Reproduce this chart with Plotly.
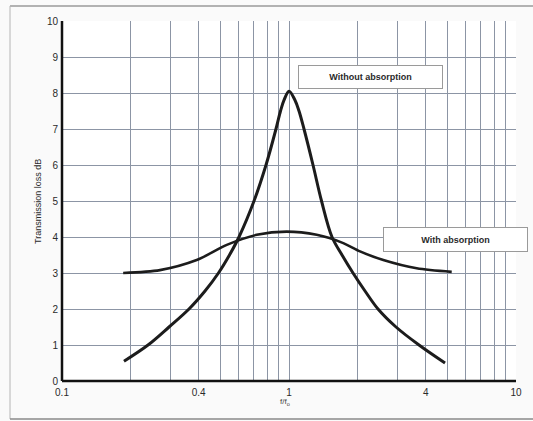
import plotly.graph_objects as go

# Data
f_without = [0.1875, 0.2393, 0.2961, 0.3626, 0.4266, 0.4890, 0.5468, 0.6021, 0.7012,
             0.7920, 0.8763, 0.9174, 0.9506, 1.0, 1.0627, 1.1069, 1.1643, 1.2758,
             1.3909, 1.5469, 1.7124, 1.9142, 2.1620, 2.4668, 2.9606, 3.7384, 4.8675]
tl_without = [0.55, 1.0, 1.5, 2.0, 2.5, 3.0, 3.5, 4.0, 5.0,
              6.0, 7.0, 7.5, 7.8, 8.05, 7.8, 7.5, 7.0, 6.0,
              5.0, 4.0, 3.5, 3.0, 2.5, 2.0, 1.5, 1.0, 0.5]

f_with = [0.186, 0.270, 0.392, 0.532, 0.721, 0.977, 1.324, 1.734, 2.055, 2.603, 3.652, 5.21]
tl_with = [3.0, 3.08, 3.36, 3.78, 4.06, 4.15, 4.06, 3.83, 3.6, 3.36, 3.13, 3.03]

major_x = [0.1, 0.4, 1, 4, 10]
major_x_text = ["0.1", "0.4", "1", "4", "10"]
minor_x = [0.2, 0.3, 0.5, 0.6, 0.7, 0.8, 0.9, 2, 3, 5, 6, 7, 8, 9]
y_ticks = list(range(0, 11))

FONT = "Liberation Sans"
INK = "#1c1c1c"
GRID = "#8c95a5"
TXT = "#2a2a2a"

fig = go.Figure()
fig.add_trace(go.Scatter(x=f_without, y=tl_without, mode="lines",
                         line=dict(color=INK, width=3, shape="spline", smoothing=1.0),
                         showlegend=False, hoverinfo="skip"))
fig.add_trace(go.Scatter(x=f_with, y=tl_with, mode="lines",
                         line=dict(color=INK, width=2.6, shape="spline", smoothing=0.8),
                         showlegend=False, hoverinfo="skip"))

fig.update_layout(
    width=533, height=421,
    margin=dict(l=62, r=17, t=21, b=40),
    paper_bgcolor="#fafafa", plot_bgcolor="#ffffff",
    font=dict(family=FONT, size=10, color=TXT),
    xaxis=dict(type="log", range=[-1, 1],
               tickvals=major_x, ticktext=major_x_text,
               showgrid=True, gridcolor=GRID, gridwidth=1,
               minor=dict(tickvals=minor_x, showgrid=True, gridcolor=GRID, gridwidth=1, ticks=""),
               zeroline=False, ticks="", showline=False,
               ticklabelstandoff=4,
               tickfont=dict(family=FONT, size=10, color=TXT)),
    yaxis=dict(range=[0, 10], tickvals=y_ticks,
               showgrid=True, gridcolor=GRID, gridwidth=1,
               zeroline=False, ticks="", showline=False,
               ticklabelstandoff=3,
               tickfont=dict(family=FONT, size=10, color=TXT)),
    shapes=[
        # outer scan frame
        dict(type="line", xref="paper", yref="paper", x0=-0.1145, x1=1.04, y0=1.0417, y1=1.0417,
             line=dict(color="#9a9a9a", width=1.5)),
        dict(type="line", xref="paper", yref="paper", x0=-0.1145, x1=-0.1145, y0=1.0417, y1=-0.1056,
             line=dict(color="#b5b5b5", width=1)),
        dict(type="line", xref="paper", yref="paper", x0=-0.1145, x1=1.04, y0=-0.1056, y1=-0.1056,
             line=dict(color="#8a8a8a", width=1.5)),
        # heavy axes
        dict(type="line", xref="paper", yref="paper", x0=0, x1=0, y0=0, y1=1,
             line=dict(color="#111111", width=2.5)),
        dict(type="line", xref="paper", yref="paper", x0=0, x1=1, y0=0, y1=0,
             line=dict(color="#111111", width=2.5)),
    ],
    annotations=[
        dict(text="<b>Without absorption</b>", x=0.359, y=8.44, xref="x", yref="y",
             showarrow=False, font=dict(family=FONT, size=9, color=TXT),
             bgcolor="#ffffff", bordercolor="#9a9a9a", borderwidth=1, borderpad=1,
             width=141, height=20),
        dict(text="<b>With absorption</b>", x=0.733, y=3.93, xref="x", yref="y",
             showarrow=False, font=dict(family=FONT, size=9, color=TXT),
             bgcolor="#ffffff", bordercolor="#9a9a9a", borderwidth=1, borderpad=1,
             width=141, height=21),
        dict(text="Transmission loss dB", x=-0.053, y=0.5, xref="paper", yref="paper",
             xanchor="center", yanchor="middle",
             textangle=-90, showarrow=False,
             font=dict(family=FONT, size=9, color=TXT)),
        dict(text="f/f<sub>o</sub>", x=0.491, y=-0.058, xref="paper", yref="paper",
             xanchor="center", yanchor="middle",
             showarrow=False, font=dict(family=FONT, size=8, color="#444444")),
    ],
)

fig.write_html("out.html", config={"displayModeBar": False})

# remove the default page margin so the figure sits at the window's top-left corner
with open("out.html", "r", encoding="utf-8") as fh:
    html = fh.read()
html = html.replace("<head>", "<head><style>html,body{margin:0;padding:0;overflow:hidden;}</style>", 1)
with open("out.html", "w", encoding="utf-8") as fh:
    fh.write(html)
